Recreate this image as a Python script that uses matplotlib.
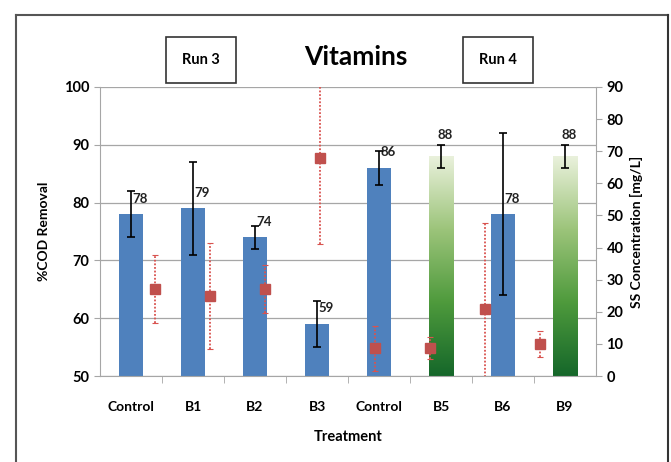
import numpy as np
import matplotlib.pyplot as plt
from matplotlib.lines import Line2D
from matplotlib.patches import Rectangle

plt.rcParams['font.family'] = ['Lato', 'DejaVu Sans']
plt.rcParams['font.weight'] = 'bold'

treatments = ['Control', 'B1', 'B2', 'B3', 'Control', 'B5', 'B6', 'B9']
cod_removal = [78, 79, 74, 59, 86, 88, 78, 88]
cod_err = [4, 8, 2, 4, 3, 2, 14, 2]
ss_conc = [27.1, 24.9, 27.0, 67.9, 8.7, 8.7, 20.9, 10.0]
ss_err = [10.6, 16.5, 7.5, 26.8, 7.0, 3.3, 26.7, 4.0]
gradient_bars = ['B5', 'B9']

blue = '#4f81bd'
red = '#c0504d'
grid_col = '#a6a6a6'

fig = plt.figure(figsize=(6.71, 4.62), dpi=100)
ax = fig.add_axes([100 / 671, 86 / 462, 496 / 671, 289 / 462])

x = np.arange(len(treatments))
w = 0.39
cmap = plt.matplotlib.colors.LinearSegmentedColormap.from_list(
    'g', ['#15672a', '#4e9a3c', '#9cc47a', '#eaf1dc'])
for i, (t, v) in enumerate(zip(treatments, cod_removal)):
    if t in gradient_bars:
        # green gradient bar, dark at the bottom
        grad = np.linspace(0, 1, 256).reshape(-1, 1)
        im = ax.imshow(grad, cmap=cmap, origin='lower', aspect='auto',
                       extent=[i - w / 2, i + w / 2, 50, v], zorder=2)
        clip = Rectangle((i - w / 2, 50), w, v - 50, transform=ax.transData)
        im.set_clip_path(clip)
    else:
        ax.bar(i, v - 50, bottom=50, width=w, color=blue, zorder=2)
ax.errorbar(x, cod_removal, yerr=cod_err, fmt='none', ecolor='black',
            elinewidth=1.2, capsize=3, capthick=1.2, zorder=4)

for i, v in enumerate(cod_removal):
    dy = 3.7 if v == 88 else 2.7
    dx = 0.02 if v != 88 else -0.05
    ax.text(i + dx, v + dy, str(v), fontsize=9.5, ha='left', va='center',
            color='#222222')

ax.set_xlim(-0.5, len(treatments) - 0.5)
ax.set_ylim(50, 100)
ax.set_yticks([50, 60, 70, 80, 90, 100])
ax.set_xticks(x)
ax.set_xticklabels(treatments)
ax.set_xticks(np.arange(len(treatments) - 1) + 0.5, minor=True)
ax.tick_params(axis='x', which='major', length=0, pad=18, labelsize=10)
ax.tick_params(axis='x', which='minor', length=5, color=grid_col)
ax.tick_params(axis='y', length=4, color=grid_col, labelsize=10.5)
ax.yaxis.grid(True, color=grid_col, linewidth=0.9, zorder=0)
ax.set_axisbelow(True)
for s in ['top', 'right']:
    ax.spines[s].set_visible(False)
ax.spines['left'].set_color(grid_col)
ax.spines['bottom'].set_color(grid_col)
ax.set_ylabel('%COD Removal', fontsize=10, fontweight='bold', labelpad=10)
ax.set_xlabel('Treatment', fontsize=10.5, fontweight='bold', labelpad=12)

ax2 = ax.twinx()
# SS markers sit on their own horizontal spacing
xs = 0.39 + 0.887 * np.arange(len(ss_conc))
ax2.errorbar(xs, ss_conc, yerr=ss_err, fmt='s', color=red, markersize=7,
             ecolor='#d9534f', elinewidth=1.3, linestyle='none',
             capsize=2, capthick=0.8, zorder=5)
for line in ax2.containers[0].lines[2]:
    line.set_linestyle((0, (1, 1)))
ax2.set_ylim(0, 90)
ax2.set_yticks(np.arange(0, 91, 10))
ax2.tick_params(axis='y', length=4, color=grid_col, labelsize=10.5)
for s in ['top', 'left', 'bottom']:
    ax2.spines[s].set_visible(False)
ax2.spines['right'].set_color(grid_col)
ax2.set_ylabel('SS Concentration [mg/L]', fontsize=10, fontweight='bold',
               labelpad=5)

fig.text(356 / 671, 1 - 57 / 462, 'Vitamins', fontsize=19, fontweight='bold',
         ha='center', va='center')
for label, cx in [('Run 3', 201), ('Run 4', 498)]:
    fig.text(cx / 671, 1 - 60 / 462, label, fontsize=10.5, fontweight='bold',
             ha='center', va='center',
             bbox=dict(boxstyle='square,pad=1.1', fc='white', ec='#333333',
                       lw=1.2))

# outer frame
fig.add_artist(Line2D([16 / 671, 668 / 671], [1 - 15 / 462] * 2,
                      color='#555555', lw=1.5))
fig.add_artist(Line2D([16 / 671] * 2, [0, 1 - 15 / 462],
                      color='#555555', lw=1.5))
fig.add_artist(Line2D([668 / 671] * 2, [0, 1 - 15 / 462],
                      color='#333333', lw=1.5))

fig.savefig('out.png', dpi=100)
